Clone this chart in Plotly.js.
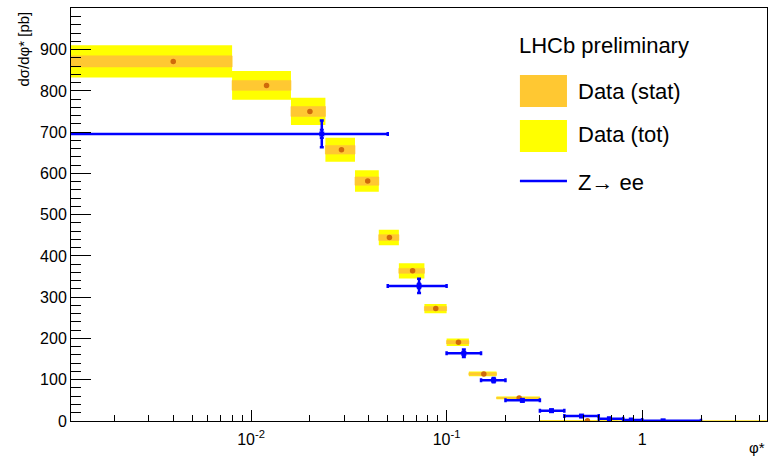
<!DOCTYPE html>
<html>
<head>
<meta charset="utf-8">
<script src="https://cdn.plot.ly/plotly-3.0.1.min.js"></script>
<style>html,body{margin:0;padding:0;background:#fff}</style>
</head>
<body>
<div id="chart" style="width:772px;height:461px"></div>
<script>
// LHCb data (bins in phi*)
const dataLo   = [0, 0.008, 0.016, 0.024, 0.034, 0.045, 0.057, 0.077, 0.10, 0.13, 0.18, 0.30, 0.75];
const dataHi   = [0.008, 0.016, 0.024, 0.034, 0.045, 0.057, 0.077, 0.10, 0.13, 0.18, 0.30, 0.75, 10];
const dataX    = [0.004, 0.012, 0.020, 0.029, 0.0395, 0.051, 0.067, 0.088, 0.115, 0.155, 0.235, 0.525, 5.4];
const dataVal  = [871.6, 813.4, 750.3, 657.4, 581.5, 444.7, 363.9, 272.4, 190.9, 114.0, 55.8, 0.5, 0.2];
const dataStat = [13.4, 12.0, 12.0, 10.5, 10.0, 7.0, 6.0, 5.0, 4.0, 3.0, 1.5, 0.6, 0.5];
const dataTot  = [39.3, 35.0, 33.0, 29.0, 26.0, 19.0, 18.7, 11.0, 9.3, 5.7, 3.3, 1.2, 1.0];

// Z -> ee
const zeeLo   = [0, 0.05, 0.10, 0.15, 0.20, 0.30, 0.40, 0.60, 0.80, 1.0];
const zeeHi   = [0.05, 0.10, 0.15, 0.20, 0.30, 0.40, 0.60, 0.80, 1.0, 2.0];
const zeeX    = [0.023, 0.0723, 0.1225, 0.174, 0.244, 0.344, 0.49, 0.68, 0.88, 1.28];
const zeeVal  = [695.7, 327.5, 164.0, 99.0, 50.0, 25.0, 12.0, 5.5, 2.4, 0.4];
const zeeTot  = [32.4, 17.0, 9.0, 5.0, 3.0, 2.0, 1.2, 0.8, 0.5, 0.2];
const zeeStat = [10.0, 6.0, 3.0, 2.0, 1.0, 0.8, 0.5, 0.3, 0.2, 0.1];

const yTickVals = [0, 100, 200, 300, 400, 500, 600, 700, 800, 900];
const xTickVals = [0.01, 0.1, 1];
const xTickText = ['10<sup>-2</sup>', '10<sup>-1</sup>', '1'];

const ZERO = 1e-4; // stands in for phi* = 0 on the log axis
const lo = v => (v <= 0 ? ZERO : v);

function boxes(los, his, vals, errs) {
  const x = [], y = [];
  for (let i = 0; i < vals.length; i++) {
    const a = lo(los[i]), b = his[i];
    const y0 = vals[i] - errs[i], y1 = vals[i] + errs[i];
    x.push(a, b, b, a, a, null);
    y.push(y0, y0, y1, y1, y0, null);
  }
  return {x, y};
}

const tot = boxes(dataLo, dataHi, dataVal, dataTot);
const stat = boxes(dataLo, dataHi, dataVal, dataStat);

const FONT = 'Liberation Sans, Arial, Helvetica, sans-serif';
const BLUE = '#0000ff';
const STATC = '#ffc832';
const TOTC = '#ffff00';

const traces = [
  {x: tot.x, y: tot.y, type: 'scatter', mode: 'lines', fill: 'toself', fillcolor: TOTC,
   line: {width: 0, color: TOTC}, hoverinfo: 'skip', showlegend: false, name: 'Data (tot)'},
  {x: stat.x, y: stat.y, type: 'scatter', mode: 'lines', fill: 'toself', fillcolor: STATC,
   line: {width: 0.6, color: STATC}, hoverinfo: 'skip', showlegend: false, name: 'Data (stat)'},
  {x: dataX, y: dataVal, type: 'scatter', mode: 'markers',
   marker: {symbol: 'circle', size: 5.5, color: '#cf6a0a'}, showlegend: false, name: 'Data'},
  {x: zeeX, y: zeeVal, type: 'scatter', mode: 'markers', showlegend: false, name: 'Z→ ee',
   marker: {symbol: 'square', size: 5, color: BLUE},
   error_x: {type: 'data', symmetric: false,
             array: zeeHi.map((h, i) => h - zeeX[i]),
             arrayminus: zeeLo.map((l, i) => zeeX[i] - lo(l)),
             color: BLUE, thickness: 2.5, width: 2},
   error_y: {type: 'data', array: zeeTot, color: BLUE, thickness: 2.5, width: 2}},
  {x: zeeX, y: zeeVal, type: 'scatter', mode: 'markers', showlegend: false, hoverinfo: 'skip',
   marker: {size: 1, color: BLUE, opacity: 0},
   error_y: {type: 'data', array: zeeStat, color: BLUE, thickness: 2, width: 2}}
];

const minorX = [];
[0.001, 0.01, 0.1, 1].forEach(d => { for (let k = 2; k <= 9; k++) minorX.push(k * d); });

const legendFont = {family: FONT, size: 22, color: '#000'};

const layout = {
  width: 772, height: 461,
  margin: {l: 71, r: 5, t: 8, b: 40},
  paper_bgcolor: '#fff', plot_bgcolor: '#fff',
  showlegend: false,
  font: {family: FONT, color: '#000'},
  xaxis: {
    type: 'log', range: [Math.log10(0.0012), Math.log10(4.35)],
    showgrid: false, zeroline: false,
    showline: true, mirror: true, linecolor: '#000', linewidth: 1,
    ticks: 'inside', ticklen: 11, tickcolor: '#000', tickwidth: 1,
    tickmode: 'array', tickvals: xTickVals, ticktext: xTickText,
    ticklabelstandoff: 4,
    tickfont: {family: FONT, size: 16, color: '#000'},
    minor: {ticks: 'inside', ticklen: 6, tickcolor: '#000', tickwidth: 1,
            tickmode: 'array', tickvals: minorX, showgrid: false}
  },
  yaxis: {
    range: [0, 1001],
    showgrid: false, zeroline: false,
    showline: true, mirror: true, linecolor: '#000', linewidth: 1,
    ticks: 'inside', ticklen: 20, tickcolor: '#000', tickwidth: 1,
    tickmode: 'array', tickvals: yTickVals,
    tickfont: {family: FONT, size: 16, color: '#000'},
    minor: {ticks: 'inside', ticklen: 10, tickcolor: '#000', tickwidth: 1,
            dtick: 20, tick0: 0, showgrid: false}
  },
  shapes: [
    {type: 'rect', xref: 'paper', yref: 'paper', x0: 0.645, x1: 0.7126, y0: 0.7603, y1: 0.8378,
     fillcolor: STATC, line: {width: 0}},
    {type: 'rect', xref: 'paper', yref: 'paper', x0: 0.645, x1: 0.7126, y0: 0.6513, y1: 0.7288,
     fillcolor: TOTC, line: {width: 0}},
    {type: 'line', xref: 'paper', yref: 'paper', x0: 0.645, x1: 0.7126, y0: 0.5811, y1: 0.5811,
     line: {color: BLUE, width: 2.5}}
  ],
  annotations: [
    {text: 'dσ/dφ* [pb]', textangle: -90, xref: 'paper', yref: 'paper',
     x: -0.0675, y: 0.995, xanchor: 'center', yanchor: 'top', showarrow: false,
     font: {family: FONT, size: 15, color: '#000'}},
    {text: 'φ*', xref: 'paper', yref: 'paper', x: 1, y: -0.065, xanchor: 'right', yanchor: 'middle',
     showarrow: false, font: {family: FONT, size: 15, color: '#000'}},
    {text: 'LHCb preliminary', xref: 'paper', yref: 'paper', x: 0.6408, y: 0.9104,
     xanchor: 'left', yanchor: 'middle', showarrow: false, font: legendFont},
    {text: 'Data (stat)', xref: 'paper', yref: 'paper', x: 0.7256, y: 0.799,
     xanchor: 'left', yanchor: 'middle', showarrow: false, font: legendFont},
    {text: 'Data (tot)', xref: 'paper', yref: 'paper', x: 0.7256, y: 0.6925,
     xanchor: 'left', yanchor: 'middle', showarrow: false, font: legendFont},
    {text: 'Z→ ee', xref: 'paper', yref: 'paper', x: 0.7256, y: 0.5763,
     xanchor: 'left', yanchor: 'middle', showarrow: false, font: legendFont}
  ]
};

Plotly.newPlot('chart', traces, layout, {staticPlot: true, displayModeBar: false});
</script>
</body>
</html>
